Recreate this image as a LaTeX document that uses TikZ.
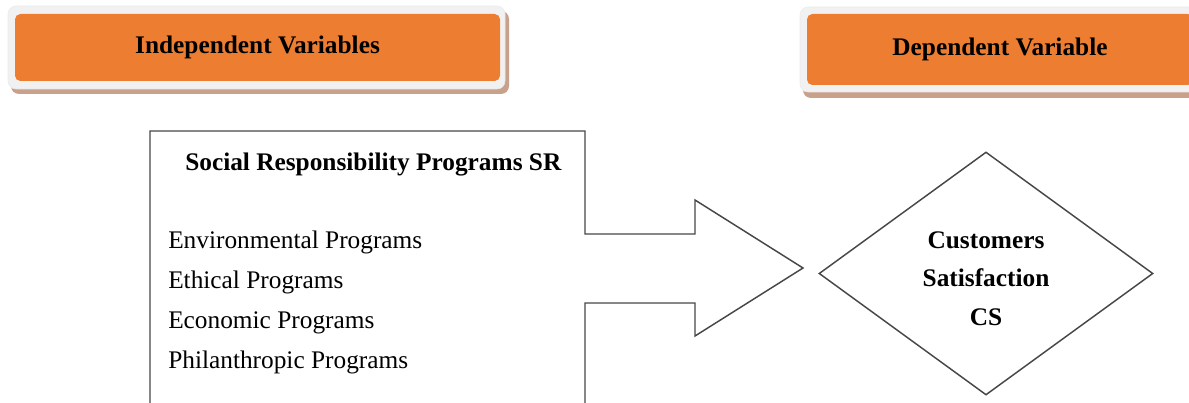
\documentclass[tikz,border=0pt]{standalone}
\usepackage{fontspec}
\setmainfont{Liberation Serif}
\usetikzlibrary{shapes.geometric,positioning,calc}
\definecolor{hdrorange}{RGB}{237,125,49}
\definecolor{hdrframe}{RGB}{241,241,241}
\definecolor{hdrshadow}{RGB}{201,160,138}

\begin{document}
\begin{tikzpicture}[x=0.75pt, y=-0.75pt,
    hdrtext/.style={text=black, font=\fontsize{19}{23}\selectfont\bfseries},
    itemtext/.style={anchor=base west, inner sep=0pt, font=\fontsize{19}{23}\selectfont},
    outline/.style={draw=black!72, line width=1.1pt}]
    \clip (0,0) rectangle (1189,403);

    % Header: independent
    \fill[hdrshadow, rounded corners=6pt] (11,11) rectangle (509,94);
    \fill[hdrframe, draw=black!8, rounded corners=6pt] (8,6) rectangle (505,89);
    \fill[hdrorange, rounded corners=4pt] (15,14) rectangle (500,81) node[midway, hdrtext] (indep) {Independent Variables};

    % Header: dependent
    \fill[hdrshadow, rounded corners=6pt] (803,12) rectangle (1210,98);
    \fill[hdrframe, draw=black!8, rounded corners=6pt] (800,7) rectangle (1205,92);
    \fill[hdrorange, rounded corners=4pt] (807,14) rectangle (1193,85) node[midway, hdrtext] (dep) {Dependent Variable};

    % Box merged with the arrow
    \draw[outline] (150,410) -- (150,131) -- (585,131) -- (585,234) -- (695,234) -- (695,200)
        -- (803,268) -- (695,336) -- (695,303) -- (585,303) -- (585,410);

    \node[itemtext, font=\fontsize{19}{23}\selectfont\bfseries] (srtitle) at (185,170) {Social Responsibility Programs SR};
    \foreach \name/\txt [count=\i from 0] in {envp/Environmental Programs, ethp/Ethical Programs,
        ecop/Economic Programs, php/Philanthropic Programs}
        \node[itemtext] (\name) at (168,248+40*\i) {\txt};

    % Dependent variable
    \node[outline, draw, shape=diamond, inner sep=0pt, minimum width=250.5pt, minimum height=182.25pt] (cs) at (986,273.5) {};
    \node[align=center, font=\fontsize{19}{29}\selectfont\bfseries] (cslabel) at ($(cs.center)+(0,5)$)
        {Customers\\Satisfaction\\CS};
\end{tikzpicture}
\end{document}
